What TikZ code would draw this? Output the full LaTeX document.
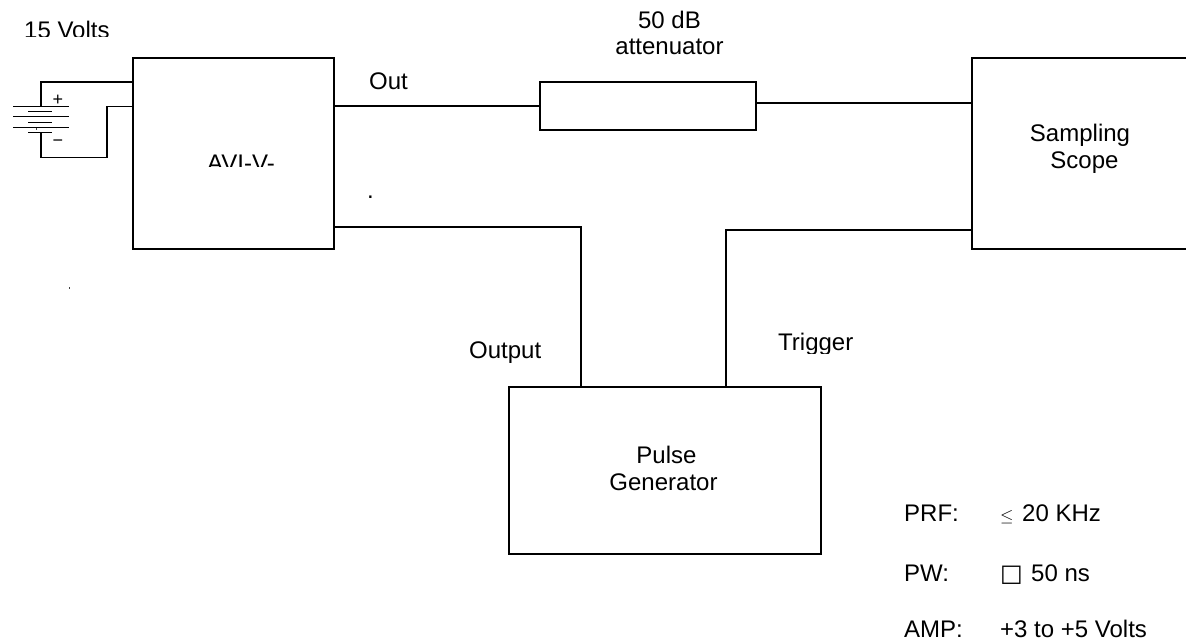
\documentclass[tikz,border=0pt]{standalone}
\usepackage{fontspec}
\setmainfont{Liberation Sans}
\newfontfamily\symfont{DejaVu Sans}
\tikzset{
	wire/.style={line width=1.5pt},
	plate/.style={line width=1pt},
	blockbox/.style={draw,line width=1.5pt,inner sep=0pt,outer sep=0pt},
	lbl/.style={font=\fontsize{24}{26.7}\selectfont,inner sep=0pt,align=center},
	lblleft/.style={lbl,anchor=base west},
	speckdot/.style={inner sep=0pt,minimum width=1pt,minimum height=2pt,fill=black!75}
}
\begin{document}
\begin{tikzpicture}[x=1pt,y=-1pt]
	\useasboundingbox (0,0) rectangle (1186,644);
	\draw (233.5,153.5) node[blockbox,minimum width=201pt,minimum height=191pt] (avi) {};
	\draw (648,106) node[blockbox,minimum width=216pt,minimum height=48pt] (attn) {};
	\draw (1084,153.5) node[blockbox,minimum width=224pt,minimum height=191pt] (scope) {};
	\draw (665,470.5) node[blockbox,minimum width=312pt,minimum height=167pt] (pulse) {};
	% clipped labels
	\begin{scope}
		\clip (0,10) rectangle (130,36.5);
		\draw (24,39) node[lblleft] (volts) {15 Volts};
	\end{scope}
	\begin{scope}
		\clip (170,140) rectangle (300,166.7);
		\draw (241,172) node[lbl,anchor=base] (avitext) {AVI-V-};
	\end{scope}
	\begin{scope}
		\clip (770,320) rectangle (870,353.3);
		\draw (778,350.7) node[lblleft] (trigger) {Trigger};
	\end{scope}
	\draw (369,89.3) node[lblleft] (out) {Out};
	\draw (367,199) node[lblleft] (dot) {.};
	\draw (469,358) node[lblleft] (output) {Output};
	\draw (669.5,32.9) node[lbl] (attntext) {50 dB\hspace{6pt}\\attenuator};
	\draw (1080,148.5) node[lbl] (scopetext) {Sampling\\\hspace{9pt}Scope};
	\draw (663.5,468.2) node[lbl] (pulsetext) {\hspace{6pt}Pulse\\Generator};
	\draw (904,521.7) node[lblleft] (prf) {PRF:};
	\draw (1000,521.7) node[lblleft,font=\fontsize{17}{20}\selectfont] (prfle) {$\leq$};
	\draw (1022,521.7) node[lblleft] (prfval) {20 KHz};
	\draw (904,581) node[lblleft] (pw) {PW:};
	\draw (1000,581) node[lblleft] (pwbox) {\symfont □};
	\draw (1031,581) node[lblleft] (pwval) {50 ns};
	\draw (904,637.4) node[lblleft] (amp) {AMP:};
	\draw (1000,637.4) node[lblleft] (ampval) {+3 to +5 Volts};
	% connections
	\draw[wire] (avi.east |- attn.west) -- (attn.west);
	\draw[wire] (attn.east |- 0,103) -- (scope.west |- 0,103);
	\draw[wire] (avi.east |- 0,227) -| (pulse.north -| 581,0);
	\draw[wire] (scope.west |- 0,230) -| (pulse.north -| 726,0);
	% battery
	\foreach \ypos in {106.7,117,127.3} \draw[plate] (13,\ypos)--(69,\ypos);
	\foreach \ypos in {111.7,122.3,132.7} \draw[plate] (28,\ypos)--(52,\ypos);
	\coordinate (battplus) at (41,106.7);
	\coordinate (battminus) at (41,132.7);
	\draw[wire] (avi.west |- 0,82) -| (battplus);
	\draw[wire] (battminus) |- (107,157.5) |- (avi.west |- 0,106.5);
	\draw (58,100) node[lbl,font=\fontsize{18}{18}\selectfont] (plus) {+};
	\draw (58,143) node[lbl,font=\fontsize{18}{18}\selectfont] (minus) {−};
	\draw (36,129.5) node[speckdot] (tick) {};
	\draw (69,288) node[speckdot] (speck) {};
\end{tikzpicture}
\end{document}
